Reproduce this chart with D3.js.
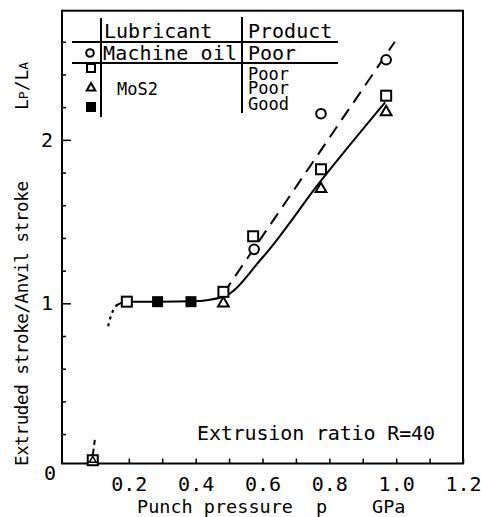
<!DOCTYPE html>
<html>
<head>
<meta charset="utf-8">
<script src="https://cdnjs.cloudflare.com/ajax/libs/d3/7.8.5/d3.min.js"></script>
<style>
  body { margin: 0; background: #fff; }
  text { font-family: "DejaVu Sans Mono", "Liberation Mono", monospace; fill: #000; }
</style>
</head>
<body>
<div id="chart"></div>
<script>
// data: [punch pressure GPa, Lp/LA]
var circlePts = [[0.575, 1.33], [0.775, 2.16], [0.97, 2.49]];
var squarePts = [[0.092, 0.04], [0.194, 1.01], [0.483, 1.07], [0.572, 1.41], [0.775, 1.82], [0.97, 2.27]];
var trianglePts = [[0.092, 0.04], [0.483, 1.0], [0.775, 1.70], [0.97, 2.17]];
var filledPts = [[0.286, 1.01], [0.386, 1.01]];

// fitted curves
var solidCurve = [[0.165, 0.99], [0.19, 1.01], [0.29, 1.01], [0.39, 1.012], [0.483, 1.04],
  [0.6, 1.28], [0.775, 1.75], [0.967, 2.23]];
var dashedLine = [[0.483, 1.06], [0.996, 2.6]];
var dottedCurve = [[0.138, 0.86], [0.146, 0.92], [0.155, 0.965], [0.168, 0.995]];
var bottomDash = [[0.093, 0.08], [0.099, 0.18]];

// axes
var xTicks = [0.1, 0.2, 0.3, 0.4, 0.5, 0.6, 0.7, 0.8, 0.9, 1.0, 1.1, 1.2];
var xTickLabels = ["", "0.2", "", "0.4", "", "0.6", "", "0.8", "", "1.0", "", "1.2"];
var yMinorTicks = [0.2, 0.4, 0.6, 0.8, 1.2, 1.4, 1.6, 1.8, 2.2, 2.4, 2.6];
var yMajorTicks = [1, 2];

// legend table
var legendHead = ["Lubricant", "Product"];
var legendLube = ["Machine oil", "MoS2"];
var legendProduct = ["Poor", "Poor", "Poor", "Good"];

var width = 482, height = 517;
var plotLeft = 62, plotRight = 463, plotTop = 10.7, plotBottom = 463.5;

var svg = d3.select("#chart")
  .append("svg")
  .attr("width", width)
  .attr("height", height);

var x = d3.scaleLinear().domain([0, 1.2]).range([plotLeft, plotRight]);
var y = d3.scaleLinear().domain([0.02, 2.79]).range([plotBottom, plotTop]);

// frame
svg.append("rect")
  .attr("x", plotLeft)
  .attr("y", plotTop)
  .attr("width", plotRight - plotLeft)
  .attr("height", plotBottom - plotTop)
  .attr("fill", "none")
  .attr("stroke", "#000")
  .attr("stroke-width", 2);

// x axis, ticks pointing inward
var xAxis = svg.append("g")
  .attr("transform", "translate(0," + plotBottom + ")")
  .call(d3.axisBottom(x)
    .tickValues(xTicks)
    .tickSize(-5)
    .tickPadding(13)
    .tickFormat(function(d, i) { return xTickLabels[i]; }));
xAxis.select(".domain").remove();
xAxis.selectAll("line").attr("stroke-width", 1.5);
xAxis.selectAll("text").attr("font-size", 20).attr("font-family", null);

// y axis: short ticks and long labelled ticks
var yMinor = svg.append("g")
  .attr("transform", "translate(" + plotLeft + ",0)")
  .call(d3.axisLeft(y).tickValues(yMinorTicks).tickSize(-4).tickFormat(""));
yMinor.select(".domain").remove();
yMinor.selectAll("line").attr("stroke-width", 1.5);

var yMajor = svg.append("g")
  .attr("transform", "translate(" + plotLeft + ",0)")
  .call(d3.axisLeft(y).tickValues(yMajorTicks).tickSize(-9).tickPadding(9).tickFormat(d3.format("d")));
yMajor.select(".domain").remove();
yMajor.selectAll("line").attr("stroke-width", 1.5);
yMajor.selectAll("text").attr("font-size", 20).attr("font-family", null);

svg.append("text")
  .attr("x", 50)
  .attr("y", 480)
  .attr("text-anchor", "middle")
  .attr("font-size", 20)
  .text("0");

// lines
var line = d3.line().x(d => x(d[0])).y(d => y(d[1]));
var smooth = d3.line().x(d => x(d[0])).y(d => y(d[1])).curve(d3.curveMonotoneX);

svg.append("path").attr("d", smooth(solidCurve))
  .attr("fill", "none").attr("stroke", "#000").attr("stroke-width", 2);
svg.append("path").attr("d", smooth(dottedCurve))
  .attr("fill", "none").attr("stroke", "#000").attr("stroke-width", 2.2)
  .attr("stroke-dasharray", "3,4");
svg.append("path").attr("d", line(dashedLine))
  .attr("fill", "none").attr("stroke", "#000").attr("stroke-width", 2)
  .attr("stroke-dasharray", "13,8");
svg.append("path").attr("d", line(bottomDash))
  .attr("fill", "none").attr("stroke", "#000").attr("stroke-width", 2)
  .attr("stroke-dasharray", "5,4");

// markers
var tri = d3.symbol().type(d3.symbolTriangle).size(50);

svg.selectAll(".tri")
  .data(trianglePts)
  .enter()
  .append("path")
  .attr("class", "tri")
  .attr("transform", d => "translate(" + x(d[0]) + "," + y(d[1]) + ")")
  .attr("d", tri)
  .attr("fill", "#fff").attr("stroke", "#000").attr("stroke-width", 2);

svg.selectAll(".sq")
  .data(squarePts)
  .enter()
  .append("rect")
  .attr("class", "sq")
  .attr("x", d => x(d[0]) - 5)
  .attr("y", d => y(d[1]) - 5)
  .attr("width", 10).attr("height", 10)
  .attr("fill", "#fff").attr("stroke", "#000").attr("stroke-width", 2);

// the bottom point shows both symbols on top of each other
svg.append("path")
  .attr("transform", "translate(" + x(trianglePts[0][0]) + "," + y(trianglePts[0][1]) + ")")
  .attr("d", d3.symbol().type(d3.symbolTriangle).size(20))
  .attr("fill", "none").attr("stroke", "#000").attr("stroke-width", 1.5);

svg.selectAll(".fsq")
  .data(filledPts)
  .enter()
  .append("rect")
  .attr("class", "fsq")
  .attr("x", d => x(d[0]) - 5.5)
  .attr("y", d => y(d[1]) - 5.5)
  .attr("width", 11).attr("height", 11)
  .attr("fill", "#000");

svg.selectAll(".circ")
  .data(circlePts)
  .enter()
  .append("circle")
  .attr("class", "circ")
  .attr("cx", d => x(d[0]))
  .attr("cy", d => y(d[1]))
  .attr("r", 4.8)
  .attr("fill", "#fff").attr("stroke", "#000").attr("stroke-width", 2);

// legend table
var lg = svg.append("g");
lg.append("line").attr("x1", 101).attr("x2", 101).attr("y1", 18).attr("y2", 117).attr("stroke", "#000").attr("stroke-width", 2);
lg.append("line").attr("x1", 242).attr("x2", 242).attr("y1", 17).attr("y2", 113).attr("stroke", "#000").attr("stroke-width", 2);
lg.append("line").attr("x1", 72).attr("x2", 338).attr("y1", 42).attr("y2", 42).attr("stroke", "#000").attr("stroke-width", 2);
lg.append("line").attr("x1", 72).attr("x2", 338).attr("y1", 63).attr("y2", 63).attr("stroke", "#000").attr("stroke-width", 2);

lg.append("text").attr("x", 104).attr("y", 38).attr("font-size", 20).text(legendHead[0]);
lg.append("text").attr("x", 248).attr("y", 38).attr("font-size", 20).text(legendHead[1]);
lg.append("text").attr("x", 103).attr("y", 60).attr("font-size", 20).attr("textLength", 134).text(legendLube[0]);
lg.append("text").attr("x", 117).attr("y", 95).attr("font-size", 17).text(legendLube[1]);

var prodY = [60, 80, 94, 110];
legendProduct.forEach(function(p, i) {
  lg.append("text").attr("x", 248).attr("y", prodY[i]).attr("font-size", i == 0 ? 20 : 17).text(p);
});

lg.append("circle").attr("cx", 90).attr("cy", 53).attr("r", 3.8)
  .attr("fill", "#fff").attr("stroke", "#000").attr("stroke-width", 2);
lg.append("rect").attr("x", 87).attr("y", 64).attr("width", 8).attr("height", 8)
  .attr("fill", "#fff").attr("stroke", "#000").attr("stroke-width", 2);
lg.append("path").attr("transform", "translate(91,88)").attr("d", d3.symbol().type(d3.symbolTriangle).size(32))
  .attr("fill", "#fff").attr("stroke", "#000").attr("stroke-width", 2);
lg.append("rect").attr("x", 86).attr("y", 102).attr("width", 10).attr("height", 10).attr("fill", "#000");

// annotation
svg.append("text")
  .attr("x", 197)
  .attr("y", 440)
  .attr("font-size", 20)
  .attr("textLength", 238)
  .text("Extrusion ratio R=40");

// axis titles
var xt = svg.append("text").attr("y", 513).attr("font-size", 18.5);
xt.append("tspan").attr("x", 137).text("Punch pressure");
xt.append("tspan").attr("x", 316).text("p");
xt.append("tspan").attr("x", 372).text("GPa");

svg.append("text")
  .attr("transform", "translate(28,466) rotate(-90)")
  .attr("font-size", 17.5)
  .attr("textLength", 285)
  .text("Extruded stroke/Anvil stroke");

var yt = svg.append("text")
  .attr("transform", "translate(28,110) rotate(-90)")
  .attr("font-size", 18);
yt.append("tspan").text("L");
yt.append("tspan").attr("font-size", 13).text("P");
yt.append("tspan").text("/L");
yt.append("tspan").attr("font-size", 13).text("A");
</script>
</body>
</html>
